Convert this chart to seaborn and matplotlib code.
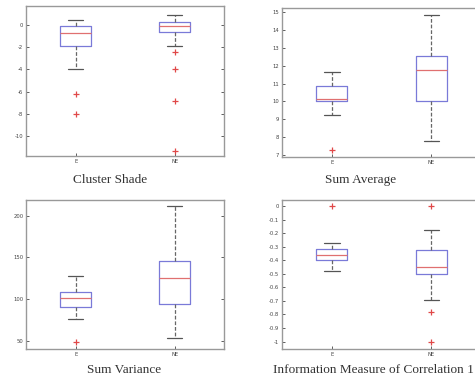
import pandas as pd
import matplotlib.pyplot as plt
import seaborn as sns

groups = ["E", "NE"]

# sample values (quartiles, whisker ends and outliers)
shade_e = [-8.0, -6.24, -3.99, -1.92, -1.5, -1.1, -0.75, -0.5, -0.3, -0.09, 0.1, 0.3, 0.42]
shade_ne = [-11.29, -6.82, -3.93, -2.4, -1.89, -0.63, -0.5, -0.4, -0.3, -0.2, -0.09,
            0.0, 0.05, 0.1, 0.18, 0.24, 0.4, 0.5, 0.6, 0.75, 0.9]
avg_e = [7.28, 9.27, 10.0, 10.08, 10.15, 10.5, 10.88, 11.2, 11.66]
avg_ne = [7.8, 10.04, 11.75, 12.56, 14.83]
var_e = [48.8, 76.4, 90.8, 96, 100.8, 105, 108.8, 118, 128]
var_ne = [53.6, 94, 124.8, 145.6, 211.2]
imc_e = [-0.48, -0.44, -0.399, -0.38, -0.362, -0.34, -0.313, -0.271, 0.0]
imc_ne = [-1.0, -0.783, -0.69, -0.5, -0.48, -0.46, -0.448, -0.4, -0.36, -0.323, -0.25, -0.175, 0.0]

titles = ["Cluster Shade", "Sum Average", "Sum Variance", "Information Measure of Correlation 1"]
yticks = [[0, -2, -4, -6, -8, -10],
          list(range(7, 16)),
          [50, 100, 150, 200],
          [0, -0.1, -0.2, -0.3, -0.4, -0.5, -0.6, -0.7, -0.8, -0.9, -1]]
yticklabels = [["0", "-2", "-4", "-6", "-8", "-10"],
               [str(v) for v in range(7, 16)],
               ["50", "100", "150", "200"],
               ["0", "-0.1", "-0.2", "-0.3", "-0.4", "-0.5", "-0.6", "-0.7", "-0.8", "-0.9", "-1"]]
ylims = [(-11.8, 1.7), (6.9, 15.22), (40, 219), (-1.054, 0.047)]

data = [(shade_e, shade_ne), (avg_e, avg_ne), (var_e, var_ne), (imc_e, imc_ne)]

sns.set_style("white")
fig = plt.figure(figsize=(4.75, 3.8), dpi=100)

# axes boxes in figure fractions (right column runs off the image edge)
rects = [[0.055, 0.589, 0.417, 0.395],
         [0.594, 0.587, 0.419, 0.392],
         [0.055, 0.082, 0.417, 0.392],
         [0.594, 0.082, 0.419, 0.392]]
title_pos = [(0.232, 0.526), (0.76, 0.526), (0.261, 0.026), (0.787, 0.026)]

for i in range(4):
    ax = fig.add_axes(rects[i])
    e, ne = data[i]
    df = pd.DataFrame({"group": ["E"] * len(e) + ["NE"] * len(ne), "value": e + ne})
    sns.boxplot(data=df, x="group", y="value", order=groups, ax=ax, width=0.31,
                fill=False, color="#7777dd", linewidth=0.9,
                boxprops={"color": "#7a7ad8"},
                medianprops={"color": "#e07070", "linewidth": 0.9},
                whiskerprops={"color": "#666666", "linestyle": (0, (3, 1.5)), "linewidth": 0.9},
                capprops={"color": "#555555", "linewidth": 0.9},
                flierprops={"marker": "+", "color": "#e04848", "markeredgecolor": "#e04848",
                            "markersize": 4, "markeredgewidth": 0.9},
                capwidths=0.155)
    ax.set_xlim(-0.5, 1.5)
    ax.set_ylim(*ylims[i])
    ax.set_yticks(yticks[i])
    ax.set_yticklabels(yticklabels[i])
    ax.set_xlabel("")
    ax.set_ylabel("")
    ax.tick_params(direction="in", length=2, width=0.6, labelsize=3.8, colors="#444444",
                   pad=2, right=True, left=True, bottom=True)
    for s in ax.spines.values():
        s.set_color("#999999")
        s.set_linewidth(1.0)
    fig.text(title_pos[i][0], title_pos[i][1], titles[i], ha="center", va="center",
             family="Liberation Serif", fontsize=9.5, color="#333333")

fig.savefig("out.png", dpi=100)
